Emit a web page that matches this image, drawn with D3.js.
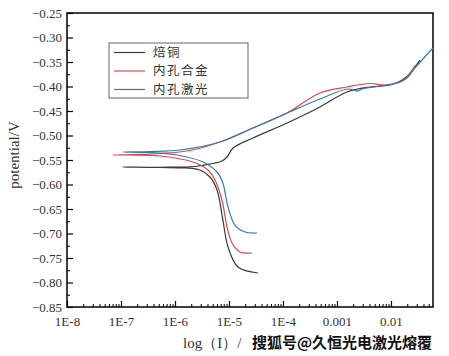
<!DOCTYPE html>
<html><head><meta charset="utf-8">
<script src="https://cdn.jsdelivr.net/npm/d3@7"></script>
<style>body{margin:0;background:#fff}svg{display:block}</style>
</head><body>
<svg id="c" width="449" height="356"></svg>
<script>
// Series data: [current (A), potential (V)] in sweep order
const seriesNames = ["焙铜", "内孔合金", "内孔激光"];
const seriesColors = ["#3a3a3a", "#e0474a", "#2f7db6"];
const copperData = [
  [3.44e-5,-0.7806],[1.47e-5,-0.7684],[9.6e-6,-0.7276],[7.7e-6,-0.6724],[6.0e-6,-0.6112],
  [4.45e-6,-0.5847],[2.9e-6,-0.5704],[1.53e-6,-0.5663],[5.3e-7,-0.5653],[1.05e-7,-0.5643],
  [5.3e-7,-0.5648],[2.34e-6,-0.5633],[4.45e-6,-0.5582],[7.4e-6,-0.552],[9.2e-6,-0.5439],
  [1.19e-5,-0.5255],[2.78e-5,-0.5051],[1.19e-4,-0.4745],[4.84e-4,-0.4418],[1.53e-3,-0.4112],
  [4.08e-3,-0.401],[9.6e-3,-0.397],[1.82e-2,-0.3827],[3.44e-2,-0.346]
];
const alloyData = [
  [2.67e-5,-0.7398],[1.6e-5,-0.7378],[1.14e-5,-0.7194],[9.2e-6,-0.6867],[7.4e-6,-0.6316],
  [5.5e-6,-0.5908],[4.08e-6,-0.5704],[2.15e-6,-0.5541],[5.3e-7,-0.5418],[1.47e-7,-0.5398],
  [7.1e-8,-0.5398],[1.47e-7,-0.5388],[5.3e-7,-0.5367],[1.9e-6,-0.5306],[6.8e-6,-0.5133],
  [2.78e-5,-0.4847],[1.19e-4,-0.4541],[4.84e-4,-0.4133],[1.53e-3,-0.401],[4.08e-3,-0.3939],
  [7.7e-3,-0.397],[1.47e-2,-0.3908],[1.98e-2,-0.3806],[2.78e-2,-0.358]
];
const laserData = [
  [3.3e-5,-0.699],[1.98e-5,-0.697],[1.29e-5,-0.6827],[9.6e-6,-0.6459],[7.7e-6,-0.5969],
  [6.0e-6,-0.5745],[3.3e-6,-0.5541],[1.09e-6,-0.5398],[3.44e-7,-0.5347],[1.09e-7,-0.5337],
  [3.44e-7,-0.5327],[1.24e-6,-0.5296],[6.8e-6,-0.5133],[2.78e-5,-0.4847],[1.19e-4,-0.4541],
  [4.84e-4,-0.4255],[1.6e-3,-0.4051],[2.45e-3,-0.4092],[2.9e-3,-0.4051],[6.25e-3,-0.399],
  [1.47e-2,-0.3908],[1.98e-2,-0.3827],[2.78e-2,-0.3622],[6.0e-2,-0.3214]
];
const allSeries = [copperData, alloyData, laserData];
const xTickValues = [1e-8,1e-7,1e-6,1e-5,1e-4,1e-3,1e-2];
const xTickLabels = ["1E-8","1E-7","1E-6","1E-5","1E-4","0.001","0.01"];
const yTickValues = [-0.85,-0.80,-0.75,-0.70,-0.65,-0.60,-0.55,-0.50,-0.45,-0.40,-0.35,-0.30,-0.25];
const xTitle = "log（I）/";
const watermark = "搜狐号@久恒光电激光熔覆";
const yTitle = "potential/V";

const svg = d3.select("#c");
const L = 67, T = 13, R = 433, B = 307;
const x = d3.scaleLog().domain([1e-8, 0.06]).range([L, R]);
const y = d3.scaleLinear().domain([-0.85, -0.25]).range([B, T]);
const serif = "'Liberation Serif','DejaVu Serif',serif";

// minor ticks
const xMinor = [];
for (let e = -8; e <= -2; e++) for (let m = 2; m <= 9; m++) { const v = m * Math.pow(10, e); if (v < 0.06) xMinor.push(v); }
const yMinor = d3.range(0, 12).map(i => -0.825 + i * 0.05);

const gx = svg.append("g").attr("transform", `translate(0,${B})`)
  .call(d3.axisBottom(x).tickValues(xTickValues).tickFormat((d,i)=>xTickLabels[i]).tickSize(-6).tickPadding(10));
gx.select(".domain").remove();
gx.selectAll("text").attr("font-family", serif).attr("font-size", 13).attr("fill", "#333");
gx.selectAll("line").attr("stroke", "#000").attr("stroke-width", 1.2);
const gxm = svg.append("g").attr("transform", `translate(0,${B})`)
  .call(d3.axisBottom(x).tickValues(xMinor).tickFormat("").tickSize(-3));
gxm.select(".domain").remove();
gxm.selectAll("line").attr("stroke", "#000");

const gy = svg.append("g").attr("transform", `translate(${L},0)`)
  .call(d3.axisLeft(y).tickValues(yTickValues).tickFormat(d => d3.format(".2f")(d).replace("-", "−")).tickSize(-6).tickPadding(5));
gy.select(".domain").remove();
gy.selectAll("text").attr("font-family", serif).attr("font-size", 13).attr("fill", "#333").attr("x", -5);
gy.selectAll("line").attr("stroke", "#000").attr("stroke-width", 1.2);
const gym = svg.append("g").attr("transform", `translate(${L},0)`)
  .call(d3.axisLeft(y).tickValues(yMinor).tickFormat("").tickSize(-3));
gym.select(".domain").remove();
gym.selectAll("line").attr("stroke", "#000");

// frame
svg.append("rect").attr("x", L).attr("y", T).attr("width", R - L).attr("height", B - T)
  .attr("fill", "none").attr("stroke", "#000").attr("stroke-width", 1.5);

// curves
const line = d3.line().x(d => x(d[0])).y(d => y(d[1])).curve(d3.curveCatmullRom.alpha(0.5));
allSeries.forEach((s, i) => {
  svg.append("path").datum(s).attr("d", line).attr("fill", "none")
    .attr("stroke", seriesColors[i]).attr("stroke-width", 1.2);
});

// legend
const lg = svg.append("g");
lg.append("rect").attr("x", 109).attr("y", 43).attr("width", 139).attr("height", 55)
  .attr("fill", "#fff").attr("stroke", "#666").attr("stroke-width", 1);
seriesNames.forEach((n, i) => {
  const yy = 52.5 + i * 18.5;
  lg.append("line").attr("x1", 114).attr("x2", 145).attr("y1", yy).attr("y2", yy)
    .attr("stroke", seriesColors[i]).attr("stroke-width", 1.2);
  lg.append("text").attr("x", 153).attr("y", yy).attr("dy", "0.35em").text(n)
    .attr("font-family", "'Noto Sans CJK SC',sans-serif").attr("font-size", 12.5)
    .attr("letter-spacing", 1.5).attr("fill", "#333");
});

// axis titles
svg.append("text").attr("transform", `translate(19,155) rotate(-90)`).attr("text-anchor", "middle")
  .attr("font-family", serif).attr("font-size", 15).attr("fill", "#333").text(yTitle);
svg.append("text").attr("x", 183).attr("y", 348).attr("font-family", serif).attr("font-size", 15)
  .attr("fill", "#333").text(xTitle);
svg.append("text").attr("x", 252).attr("y", 348).attr("font-family", "'Noto Sans CJK SC',sans-serif")
  .attr("font-size", 15).attr("font-weight", "bold").attr("fill", "#111")
  .attr("stroke", "#fff").attr("stroke-width", 0.6).attr("paint-order", "stroke").text(watermark);
</script>
</body></html>
